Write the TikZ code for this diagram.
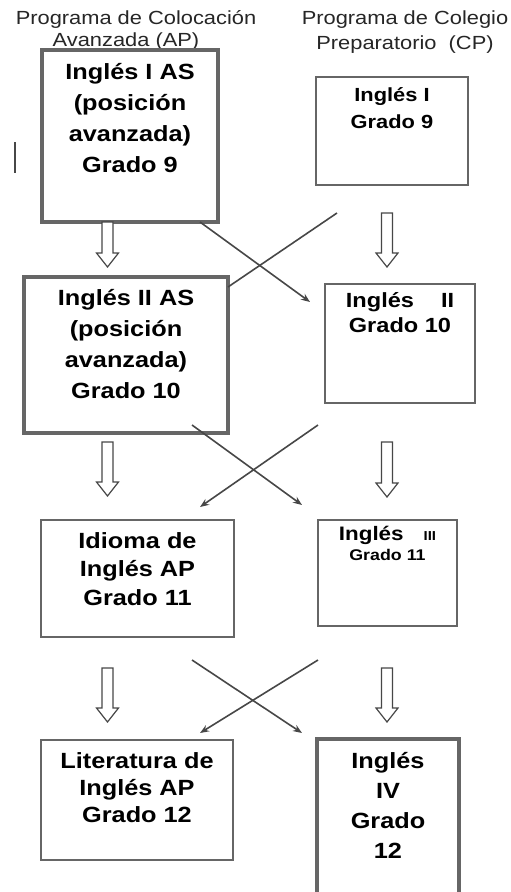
\documentclass[tikz,border=0pt]{standalone}
\usepackage{fontspec}
\setmainfont{Liberation Sans}[FakeStretch=1.15]
\usepackage{tikz}
\usetikzlibrary{arrows.meta,calc}
\definecolor{boxgray}{gray}{0.4}
\definecolor{linegray}{gray}{0.28}
\newcommand{\setfs}[2]{\fontsize{#1}{#2}\selectfont}
\newcommand{\hollowarrow}[2]{%
  \draw[hollow-arrow] ($(#1)+(-5.5,0)$) -- ($(#2)+(-5.5,-14)$) -- ($(#2)+(-11,-14)$) -- (#2)
    -- ($(#2)+(11,-14)$) -- ($(#2)+(5.5,-14)$) -- ($(#1)+(5.5,0)$) -- cycle;}
\tikzset{
    course-box/.style = {draw=boxgray, fill=white, line width=2pt, rectangle, inner xsep=0pt, font=\bfseries},
    course-box-thick/.style = {course-box, line width=3.5pt},
    program-title/.style = {align=center, inner sep=0pt, anchor=north, text=black!85},
    hollow-arrow/.style = {draw=linegray, line width=1.2pt, fill=white, line join=miter},
    cross-arrow/.style = {draw=linegray, line width=1.6pt, -{Stealth[length=9pt, width=7pt]}},
}

\begin{document}
\begin{tikzpicture}[x=1pt, y=-1pt]
\useasboundingbox (0,0) rectangle (511,892);
\clip (0,0) rectangle (511,892);
\fill[white] (0,0) rectangle (511,892);

% column titles
\node[program-title, font={\setfs{19}{22}}] (ap-title) at (136,10) {Programa de Colocación\\Avanzada (AP)\hspace*{20pt}};
\node[program-title, font={\setfs{19}{25}}] (cp-title) at (405,11) {Programa de Colegio\\Preparatorio\ \ (CP)};

% AP column
\node[course-box-thick, inner ysep=13.4pt] (ap1) at (130,136) {\begin{minipage}[c][145pt][t]{176pt}\centering\setfs{22}{31}
    Inglés I AS\\(posición\\avanzada)\\Grado 9
\end{minipage}};
\node[course-box-thick, inner ysep=12.4pt] (ap2) at (126,355) {\begin{minipage}[c][131pt][t]{204pt}\centering\setfs{22}{31}
    Inglés II AS\\(posición\\avanzada)\\Grado 10
\end{minipage}};
\node[course-box, inner ysep=12.5pt] (ap3) at (137.5,578.5) {\begin{minipage}[c][92pt][t]{193pt}\centering\setfs{22}{28.5}
    Idioma de\\Inglés AP\\Grado 11
\end{minipage}};
\node[course-box, inner ysep=12.5pt] (ap4) at (137,800) {\begin{minipage}[c][95pt][t]{192pt}\centering\setfs{22}{27}
    Literatura de\\Inglés AP\\Grado 12
\end{minipage}};

% CP column
\node[course-box, inner ysep=11pt] (cp1) at (392,131) {\begin{minipage}[c][86pt][t]{152pt}\centering\setfs{19}{27}
    Inglés I\\Grado 9
\end{minipage}};
\node[course-box, inner ysep=8.7pt] (cp2) at (400,343.5) {\begin{minipage}[c][101.6pt][t]{150pt}\centering\setfs{20.5}{25}
    Inglés\hspace{27pt}II\\Grado 10
\end{minipage}};
\node[course-box, inner ysep=6pt] (cp3) at (387.5,573) {\begin{minipage}[c][94pt][t]{139pt}\centering\setfs{15.5}{20}
    {\setfs{19.5}{20}Inglés}\hspace{20pt}{\setfs{13}{20}III}\\Grado 11
\end{minipage}};
\node[course-box-thick, inner ysep=13.4pt] (cp4) at (388,822) {\begin{minipage}[c][139pt][t]{142pt}\centering\setfs{22}{30}
    Inglés\\IV\\Grado\\12
\end{minipage}};

% stray mark
\draw[linegray, line width=1.5pt] (15,142) -- (15,173);

% hollow arrows down each column
\coordinate (ap1-out) at (107.5,222);
\coordinate (ap2-in) at (107.5,267);
\coordinate (ap2-out) at (107.5,442);
\coordinate (ap3-in) at (107.5,496);
\coordinate (ap3-out) at (107.5,668);
\coordinate (ap4-in) at (107.5,722);
\coordinate (cp1-out) at (387,213);
\coordinate (cp2-in) at (387,267);
\coordinate (cp2-out) at (387,442);
\coordinate (cp3-in) at (387,497);
\coordinate (cp3-out) at (387,668);
\coordinate (cp4-in) at (387,722);
\hollowarrow{ap1-out}{ap2-in}
\hollowarrow{ap2-out}{ap3-in}
\hollowarrow{ap3-out}{ap4-in}
\hollowarrow{cp1-out}{cp2-in}
\hollowarrow{cp2-out}{cp3-in}
\hollowarrow{cp3-out}{cp4-in}

% crossing arrows between columns
\coordinate (x1-ap) at (200,222);
\coordinate (x1-cp) at (310,302);
\coordinate (y1-cp) at (337,213);
\coordinate (y1-ap) at (228,287);
\coordinate (x2-ap) at (192,425);
\coordinate (x2-cp) at (302,505);
\coordinate (y2-cp) at (318,425);
\coordinate (y2-ap) at (200,507);
\coordinate (x3-ap) at (192,660);
\coordinate (x3-cp) at (302,733);
\coordinate (y3-cp) at (318,660);
\coordinate (y3-ap) at (200,733);
\draw[cross-arrow] (x1-ap) -- (x1-cp);
\draw[cross-arrow, -] (y1-cp) -- (y1-ap);
\draw[cross-arrow] (x2-ap) -- (x2-cp);
\draw[cross-arrow] (y2-cp) -- (y2-ap);
\draw[cross-arrow] (x3-ap) -- (x3-cp);
\draw[cross-arrow] (y3-cp) -- (y3-ap);
\end{tikzpicture}
\end{document}
